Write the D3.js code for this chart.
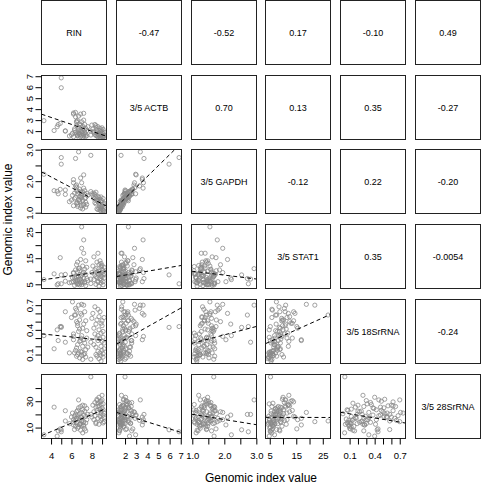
<!DOCTYPE html>
<html><head><meta charset="utf-8">
<script src="https://cdn.jsdelivr.net/npm/d3@7/dist/d3.min.js"></script>
<style>body{margin:0;background:#fff;} svg text{font-family:"Liberation Sans",Arial,Helvetica,sans-serif;}</style>
</head><body><svg id="c" width="481" height="486"></svg>
<script>
// ---------- data ----------
const varNames = ["RIN","3/5 ACTB","3/5 GAPDH","3/5 STAT1","3/5 18SrRNA","3/5 28SrRNA"];
const RIN = [3.3,4.3,4.6,4.7,4.9,5.0,5.0,5.4,5.4,5.8,
  6.0,6.1,6.2,6.2,6.3,6.4,6.4,6.4,6.5,6.5,
  6.5,6.6,6.6,6.6,6.7,6.7,6.7,6.8,6.8,6.8,
  6.9,6.9,6.9,7.0,7.0,7.0,7.0,7.1,7.1,7.1,
  7.2,7.2,7.2,7.3,7.3,7.3,7.4,7.4,7.4,7.5,
  7.5,7.6,6.2,6.3,6.6,6.9,7.0,7.2,6.5,6.8,
  7.9,7.9,8.0,8.1,8.2,8.3,8.3,8.4,8.4,8.5,
  8.5,8.5,8.6,8.6,8.6,8.7,8.7,8.7,8.8,8.8,
  8.8,8.9,8.9,8.9,8.9,9.0,9.0,9.0,9.0,9.1,
  9.1,9.1,9.1,9.2,9.2,9.2,8.2,8.4,8.6,8.9];
const ACTB = [2.95,2.05,2.40,2.60,2.70,6.85,5.95,2.00,2.02,1.55,
  1.65,1.80,3.65,3.55,2.20,3.70,3.30,1.90,2.50,1.75,
  2.80,1.60,2.95,1.55,2.35,3.37,1.85,2.10,1.70,2.65,
  1.50,3.55,2.00,2.30,1.62,2.85,1.95,1.45,2.45,1.78,
  3.00,3.62,1.65,2.15,1.88,2.60,1.52,2.25,1.72,2.05,
  1.58,2.40,1.48,2.05,1.68,2.55,1.92,1.55,2.90,1.80,
  1.64,2.00,2.55,2.20,1.85,2.60,1.70,2.35,1.60,2.10,
  1.55,1.90,1.72,2.40,1.48,1.80,1.58,2.05,1.65,1.45,
  2.25,1.75,1.52,1.95,1.62,1.85,1.50,2.30,1.68,1.55,
  1.78,1.45,2.15,1.60,1.90,1.50,1.95,2.50,1.68,2.10];
const GAPDH = [2.22,1.70,1.68,1.60,1.74,2.75,2.54,1.72,1.58,1.35,
  1.40,1.55,1.95,2.05,1.62,2.72,1.85,1.48,1.70,1.30,
  1.88,1.25,1.60,1.20,1.66,2.93,1.42,1.52,1.35,1.75,
  1.15,2.10,1.50,1.55,1.22,1.95,1.60,1.12,1.65,1.38,
  2.20,1.78,1.28,1.45,1.58,1.70,1.18,1.48,1.33,1.62,
  1.26,1.55,1.22,1.44,1.31,1.68,1.47,1.24,1.80,1.40,
  2.82,1.67,1.60,1.55,1.45,1.58,1.32,1.50,1.28,1.44,
  1.12,1.38,1.40,1.52,1.10,1.30,1.15,1.48,1.22,1.08,
  1.42,1.18,1.06,1.35,1.14,1.25,1.10,1.38,1.20,1.08,
  1.28,1.05,1.45,1.12,1.30,1.06,1.62,1.65,1.36,1.50];
const STAT1 = [6.8,9.0,4.8,5.2,15.2,5.2,8.6,8.8,6.2,5.6,
  5.8,7.5,9.5,6.0,4.6,7.2,10.5,6.4,5.4,8.0,
  12.5,5.0,9.8,6.6,7.8,11.0,5.2,4.8,6.8,10.2,
  5.6,14.5,7.0,27.0,6.2,18.8,8.4,5.8,9.0,12.0,
  7.4,22.0,16.9,6.0,10.8,5.5,8.8,14.0,4.5,7.2,
  11.5,6.5,9.2,7.6,13.5,8.2,4.9,9.6,6.0,11.2,
  7.0,5.3,9.5,12.0,6.8,10.5,8.5,5.0,11.0,13.5,
  7.6,9.8,16.9,6.2,8.9,12.5,4.3,10.0,7.2,9.2,
  14.0,6.5,11.8,8.2,5.5,10.8,7.8,9.5,12.2,6.0,
  8.6,10.2,4.8,7.4,11.5,9.0,15.5,8.0,5.8,13.0];
const S18 = [0.33,0.17,0.40,0.27,0.44,0.44,0.43,0.62,0.25,0.12,
  0.55,0.74,0.32,0.28,0.12,0.58,0.66,0.15,0.08,0.18,
  0.50,0.10,0.45,0.22,0.38,0.70,0.12,0.06,0.26,0.52,
  0.14,0.60,0.30,0.58,0.09,0.71,0.33,0.04,0.42,0.20,
  0.47,0.70,0.28,0.11,0.62,0.24,0.16,0.51,0.07,0.39,
  0.30,0.19,0.35,0.58,0.48,0.27,0.13,0.10,0.64,0.41,
  0.25,0.043,0.54,0.60,0.22,0.35,0.68,0.10,0.47,0.30,
  0.08,0.52,0.27,0.14,0.33,0.56,0.05,0.40,0.12,0.29,
  0.62,0.09,0.36,0.20,0.02,0.45,0.15,0.51,0.26,0.11,
  0.38,0.07,0.31,0.17,0.55,0.24,0.42,0.19,0.65,0.48];
const S28 = [4.5,25.5,3.5,7.5,9.0,6.8,8.3,22.8,15.0,13.0,
  18.0,21.0,16.0,12.0,18.5,20.0,15.5,11.0,13.5,17.0,
  22.0,9.5,19.0,14.0,25.0,31.0,10.5,16.5,12.5,20.5,
  8.0,18.0,13.0,15.0,11.5,21.5,17.5,6.0,23.5,27.0,
  19.5,14.5,12.0,9.0,26.5,22.5,7.5,18.5,13.5,24.5,
  16.0,20.0,14.0,8.5,23.0,26.0,15.5,11.0,17.0,12.5,
  20.0,48.5,18.0,27.0,22.0,29.0,19.0,14.0,25.5,30.5,
  23.0,31.5,17.0,28.5,21.5,26.5,12.5,33.0,24.0,18.5,
  29.5,15.5,27.5,22.5,20.5,31.0,16.5,25.0,34.5,13.5,
  19.5,23.5,28.0,17.5,21.0,14.5,16.0,13.0,26.0,30.0];

// correlation labels for upper panels, row by row
const corrLabels = [
  ["-0.47","-0.52","0.17","-0.10","0.49"],
  ["0.70","0.13","0.35","-0.27"],
  ["-0.12","0.22","-0.20"],
  ["0.35","-0.0054"],
  ["-0.24"]
];
// fitted regression lines (row var on column var): [intercept, slope], row by row for lower panels
const fitLines = [
  [[4.51,-0.316]],
  [[2.82,-0.171],[0.76,0.347]],
  [[5.0,0.54],[7.07,0.73],[11.5,-1.49]],
  [[0.39,-0.0127],[0.132,0.076],[0.135,0.102],[0.183,0.0145]],
  [[-6.13,3.26],[24.8,-2.63],[24.0,-3.94],[17.8,-0.005],[21.5,-10.5]]
];
// axis ticks and which of them carry labels
const tickVals = [[4,5,6,7,8,9],[2,3,4,5,6,7],[1.0,1.5,2.0,2.5,3.0],[5,10,15,20,25],[0.1,0.2,0.3,0.4,0.5,0.6,0.7],[10,20,30,40]];
const tickLabels = [["4","","6","","8",""],["2","3","4","5","6","7"],["1.0","","2.0","","3.0"],["5","","15","","25"],["0.1","","","0.4","","","0.7"],["10","","30",""]];
const axisTitle = "Genomic index value";

// ---------- layout ----------
const vars = [RIN, ACTB, GAPDH, STAT1, S18, S28];
const n = vars.length;
const left0 = 41, stepX = 74.8, stepY = 74.7, pw = 65, ph = 64;
const colX = j => Math.round(left0 + j*stepX) + 0.5;
const rowY = i => Math.round(i*stepY) + 0.5;
const ext = vars.map(v => { const e = d3.extent(v); const p = (e[1]-e[0])*0.04; return [e[0]-p, e[1]+p]; });
const xs = vars.map((v,j) => d3.scaleLinear().domain(ext[j]).range([colX(j), colX(j)+pw]));
const ys = vars.map((v,i) => d3.scaleLinear().domain(ext[i]).range([rowY(i)+ph, rowY(i)]));

const svg = d3.select("#c");
const defs = svg.append("defs");
const fontFam = '"Liberation Sans",Arial,Helvetica,sans-serif';

for (let i=0;i<n;i++){
  for (let j=0;j<n;j++){
    const x0 = colX(j), y0 = rowY(i);
    const g = svg.append("g");
    if (i>j){
      const cid = "clip"+i+"_"+j;
      defs.append("clipPath").attr("id",cid).append("rect").attr("x",x0).attr("y",y0).attr("width",pw).attr("height",ph);
      const pg = g.append("g").attr("clip-path","url(#"+cid+")");
      pg.selectAll("circle").data(d3.range(vars[0].length)).join("circle")
        .attr("cx", k => xs[j](vars[j][k]))
        .attr("cy", k => ys[i](vars[i][k]))
        .attr("r", 2.1)
        .attr("fill","none").attr("stroke","#8a8a8a").attr("stroke-width",0.8);
      const [a,b] = fitLines[i-1][j];
      const dx = ext[j];
      pg.append("line")
        .attr("x1", xs[j](dx[0])).attr("y1", ys[i](a+b*dx[0]))
        .attr("x2", xs[j](dx[1])).attr("y2", ys[i](a+b*dx[1]))
        .attr("stroke","#000").attr("stroke-width",1).attr("stroke-dasharray","4,3");
    } else {
      const label = (i===j) ? varNames[i] : corrLabels[i][j-i-1];
      g.append("text").attr("x", x0+pw/2).attr("y", y0+ph/2).attr("dy","0.35em")
        .attr("text-anchor","middle").attr("font-size",9).attr("fill","#000").text(label);
    }
    g.append("rect").attr("x",x0).attr("y",y0).attr("width",pw).attr("height",ph)
      .attr("fill","none").attr("stroke","#222").attr("stroke-width",1);
  }
}

// bottom axes (columns 0..n-2)
for (let j=0;j<n-1;j++){
  const ax = d3.axisBottom(xs[j]).tickValues(tickVals[j]).tickSize(6)
    .tickFormat((d,k) => tickLabels[j][k]);
  const g = svg.append("g").attr("transform","translate(0,"+(rowY(n-1)+ph)+")").call(ax);
  g.select(".domain").remove();
  g.selectAll(".tick line").attr("stroke","#000");
  g.selectAll(".tick text").attr("y",20).attr("dy",0).attr("font-size",9.5).attr("font-family",fontFam).attr("fill","#000");
}
// left axes (rows 1..n-1)
for (let i=1;i<n;i++){
  const ax = d3.axisLeft(ys[i]).tickValues(tickVals[i]).tickSize(6)
    .tickFormat((d,k) => tickLabels[i][k]);
  const g = svg.append("g").attr("transform","translate("+colX(0)+",0)").call(ax);
  g.select(".domain").remove();
  g.selectAll(".tick line").attr("stroke","#000");
  g.selectAll(".tick text").attr("x",0).attr("y",-8.5).attr("dy",0)
    .attr("text-anchor","middle").attr("transform","rotate(-90)")
    .attr("font-size",9.5).attr("font-family",fontFam).attr("fill","#000");
}
// axis titles
svg.append("text").attr("x",(colX(0)+colX(n-1)+pw)/2).attr("y",482)
  .attr("text-anchor","middle").attr("font-size",12).attr("fill","#000").text(axisTitle);
svg.append("text").attr("transform","translate(11.5,"+((rowY(0)+rowY(n-1)+ph)/2)+") rotate(-90)")
  .attr("text-anchor","middle").attr("font-size",12).attr("fill","#000").text(axisTitle);
</script></body></html>
